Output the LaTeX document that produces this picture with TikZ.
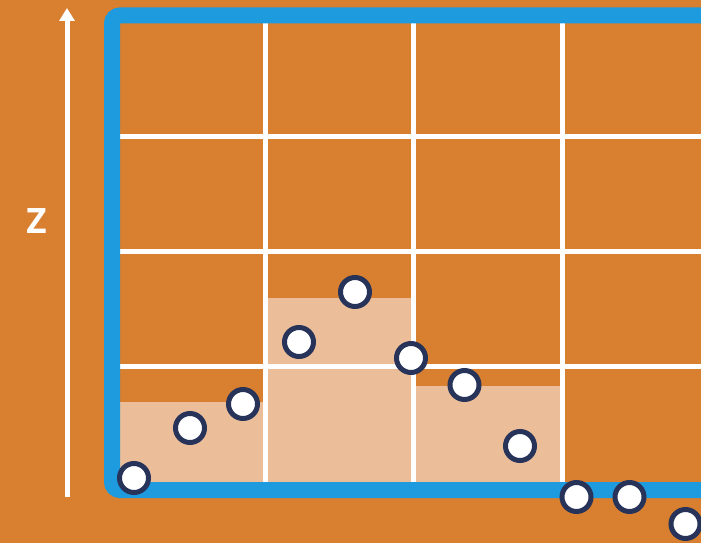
\documentclass[tikz,border=0pt]{standalone}
\usepackage{fontspec}
\setsansfont{Open Sans}
\usetikzlibrary{arrows.meta,positioning}
\definecolor{bgorange}{HTML}{D8802F}
\definecolor{binpeach}{HTML}{EBBE99}
\definecolor{frameblue}{HTML}{1E9ADF}
\definecolor{dotnavy}{HTML}{28335A}
\tikzset{
  binfill/.style={fill=binpeach,draw=none},
  gridline/.style={draw=white,line width=5pt},
  frame/.style={draw=frameblue,line width=16pt,rounded corners=8pt},
  dot/.style={circle,draw=dotnavy,fill=white,line width=5pt,minimum size=29pt,inner sep=0pt},
  axis/.style={-{Triangle[length=13pt,width=15pt]},draw=white,line width=5pt},
  axislabel/.style={text=white,font=\sffamily\bfseries\fontsize{35}{35}\selectfont,inner sep=0pt},
}

\begin{document}
\begin{tikzpicture}[x=1pt,y=-1pt]
    \useasboundingbox (0,0) rectangle (701,543);
    \clip (0,0) rectangle (701,543);
    \fill[bgorange] (0,0) rectangle (701,543);
    % histogram bins
    \path[binfill] (120,402) rectangle (265,482);
    \path[binfill] (265,298) rectangle (413,482);
    \path[binfill] (413,386) rectangle (562,482);
    % grid
    \foreach \gx in {265,413,562} \draw[gridline] (\gx,23) -- (\gx,482);
    \foreach \gy in {136.5,251,366} \draw[gridline] (120,\gy) -- (701,\gy);
    % frame
    \draw[frame] (760,15.5) -- (112,15.5) -- (112,490) -- (760,490);
    % samples
    \node[dot] (p1) at (134,478) {};
    \node[dot] (p2) at (190,428) {};
    \node[dot] (p3) at (243,404) {};
    \node[dot] (p4) at (299,342) {};
    \node[dot] (p5) at (355,292) {};
    \node[dot] (p6) at (411,358) {};
    \node[dot] (p7) at (464.5,385) {};
    \node[dot] (p8) at (520,446) {};
    \node[dot] (p9) at (576.5,497) {};
    \node[dot] (p10) at (629.5,497) {};
    \node[dot] (p11) at (685.5,524) {};
    % z axis
    \coordinate (zbot) at (67,497);
    \coordinate (ztop) at (67,8);
    \draw[axis] (zbot) -- (ztop);
    \node[axislabel] (zlabel) at (36.5,221) {Z};
\end{tikzpicture}
\end{document}
